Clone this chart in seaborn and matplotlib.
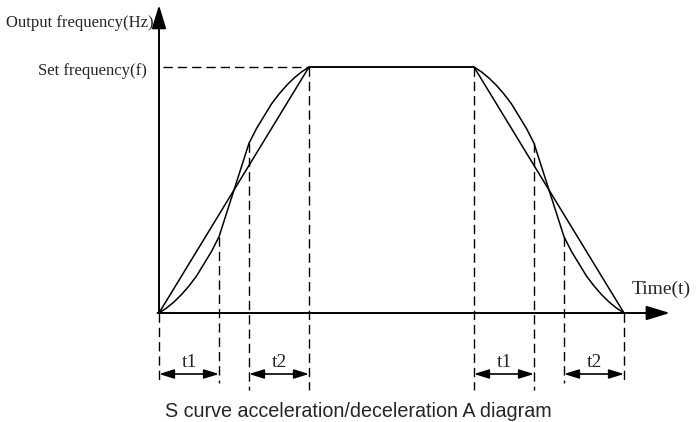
import matplotlib
matplotlib.use("Agg")
import numpy as np
import seaborn as sns
import matplotlib.pyplot as plt

# S-curve profile (time units, frequency in % of set frequency)
s_t = [0, 0.25, 0.5, 0.75, 1.0, 1.25, 1.5, 1.75, 2.0,
       3.0, 3.25, 3.5, 3.75, 4.0, 4.25, 4.5, 4.75, 5.0,
       10.5, 10.75, 11.0, 11.25, 11.5, 11.75, 12.0, 12.25, 12.5,
       13.5, 13.75, 14.0, 14.25, 14.5, 14.75, 15.0, 15.25, 15.5]
s_f = [0, 2, 4.5, 7.5, 11, 15, 20, 25, 31,
       69, 75, 80, 85, 89, 92.5, 95.5, 98, 100,
       100, 98, 95.5, 92.5, 89, 85, 80, 75, 69,
       31, 25, 20, 15, 11, 7.5, 4.5, 2, 0]

# straight line profile
lin_t = [0, 5, 10.5, 15.5]
lin_f = [0, 100, 100, 0]

# phase boundaries and interval names
marks = [0, 2, 3, 5, 10.5, 12.5, 13.5, 15.5]
intervals = [(0, 2, "t1"), (3, 5, "t2"), (10.5, 12.5, "t1"), (13.5, 15.5, "t2")]

set_f = 100

sns.set_style("white")
serif = ["Liberation Serif", "DejaVu Serif"]
sans = ["Liberation Sans", "DejaVu Sans"]

fig = plt.figure(figsize=(6.96, 4.22), dpi=100)
ax = fig.add_axes([0, 0, 1, 1])
ax.set_xlim(-5.3, 17.9)
ax.set_ylim(-44.31, 127.24)
ax.axis("off")

sns.lineplot(x=s_t, y=s_f, ax=ax, color="black", lw=1.1, sort=False, estimator=None)
sns.lineplot(x=lin_t, y=lin_f, ax=ax, color="black", lw=1.1, sort=False, estimator=None)

# dashed guides
dash = dict(color="black", lw=1.0, linestyle=(0, (6.7, 3.6)))
ax.plot([0.13, 5], [set_f, set_f], **dash)
bottoms = [-28.5, -28.5, -31.3, -31.3, -31.3, -31.3, -28.5, -28.5]
for t, b in zip(marks, bottoms):
    top = np.interp(t, s_t, s_f) if t < 10 else np.interp(-t, [-x for x in s_t[::-1]], s_f[::-1])
    ax.plot([t, t], [top, b], **dash)

# axes with arrow heads
axarrow = dict(arrowstyle="-|>,head_length=0.72,head_width=0.22", mutation_scale=20,
               lw=1.4, color="black", shrinkA=0, shrinkB=0)
ax.annotate("", xy=(0, 125.2), xytext=(0, 0), arrowprops=axarrow)
ax.annotate("", xy=(17.03, 0), xytext=(-0.05, 0), arrowprops=axarrow)

# interval arrows
for t0, t1, name in intervals:
    ax.annotate("", xy=(t1, -24.8), xytext=(t0, -24.8),
                arrowprops=dict(arrowstyle="<|-|>,head_length=0.45,head_width=0.14",
                                mutation_scale=20, lw=1.2, color="black",
                                shrinkA=0, shrinkB=0))
    ax.text((t0 + t1) / 2, -21.95, name, ha="center", va="baseline",
            fontsize=14, family=serif)

ax.text(-0.17, 116.1, "Output frequency(Hz)", ha="right", va="baseline",
        fontsize=12, family=serif)
ax.text(-0.4, 96.7, "Set frequency(f)", ha="right", va="baseline",
        fontsize=12, family=serif)
ax.text(15.77, 7.7, "Time(t)", ha="left", va="baseline", fontsize=14, family=serif)
ax.text(6.63, -42.3, "S curve acceleration/deceleration A diagram", ha="center",
        va="baseline", fontsize=14.2, family=sans)

fig.savefig("out.png", dpi=100)
